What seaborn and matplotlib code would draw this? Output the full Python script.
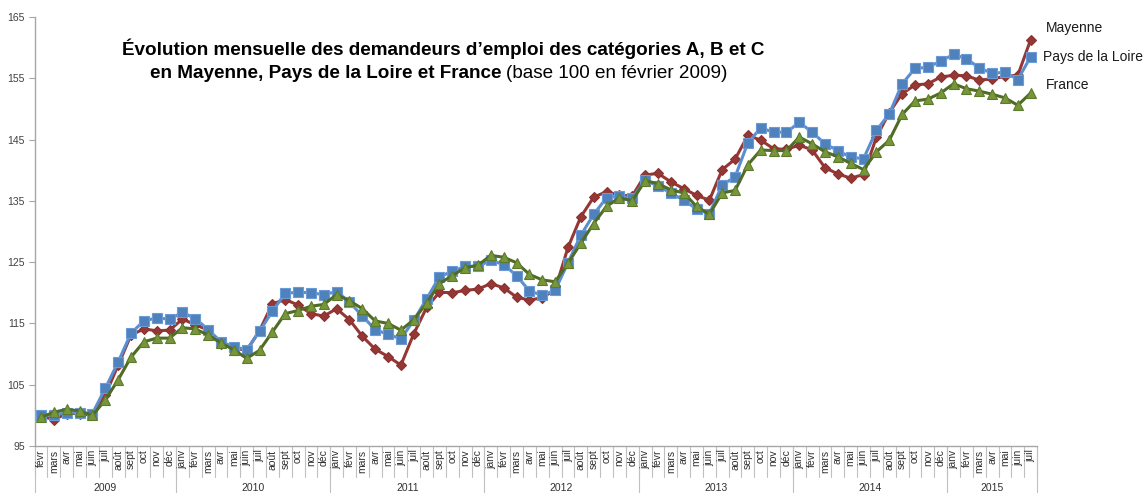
import numpy as np
import pandas as pd
import matplotlib
matplotlib.use("Agg")
import matplotlib.pyplot as plt
import matplotlib.transforms as mtransforms
import seaborn as sns

# ---------------- data ----------------
years = ["2009", "2010", "2011", "2012", "2013", "2014", "2015"]
year_months = [
    ["févr", "mars", "avr", "mai", "juin", "juil", "août", "sept", "oct", "nov", "déc"],
    ["janv", "févr", "mars", "avr", "mai", "juin", "juil", "août", "sept", "oct", "nov", "déc"],
    ["janv", "févr", "mars", "avr", "mai", "juin", "juil", "août", "sept", "oct", "nov", "déc"],
    ["janv", "févr", "mars", "avr", "mai", "juin", "juil", "août", "sept", "oct", "nov", "déc"],
    ["janv", "févr", "mars", "avr", "mai", "juin", "juil", "août", "sept", "oct", "nov", "déc"],
    ["janv", "févr", "mars", "avr", "mai", "juin", "juil", "août", "sept", "oct", "nov", "déc"],
    ["janv", "févr", "mars", "avr", "mai", "juin", "juil"],
]

mayenne = [
    99.9, 99.3, 100.3, 100.3, 100.0, 103.3, 108.2, 113.1, 114.1, 113.8, 113.9,
    115.7, 114.8, 113.9, 111.6, 111.0, 110.6, 113.8, 118.2, 118.9, 118.0, 116.6, 116.2,
    117.4, 115.6, 112.9, 110.8, 109.6, 108.2, 113.3, 117.6, 120.1, 120.0, 120.4, 120.6,
    121.5, 120.8, 119.3, 118.8, 119.2, 120.5, 127.4, 132.4, 135.6, 136.5, 135.9, 135.8,
    139.2, 139.5, 138.1, 137.0, 135.9, 135.1, 140.1, 141.8, 145.7, 144.9, 143.5, 143.4,
    144.1, 143.3, 140.4, 139.4, 138.7, 139.3, 145.4, 149.4, 152.5, 153.9, 154.1, 155.2,
    155.5, 155.4, 154.7, 154.9, 155.3, 155.5, 161.3,
]
pays_de_la_loire = [
    100.0, 100.1, 100.4, 100.4, 100.3, 104.4, 108.7, 113.4, 115.4, 115.9, 115.7,
    116.8, 115.8, 114.0, 112.0, 111.2, 110.7, 113.7, 117.0, 119.9, 120.1, 120.0, 119.7,
    120.2, 118.5, 116.2, 114.0, 113.2, 112.5, 115.5, 119.0, 122.6, 123.5, 124.3, 124.3,
    125.3, 124.6, 122.8, 120.3, 119.6, 120.4, 124.9, 129.4, 132.8, 135.5, 135.8, 135.4,
    138.4, 137.4, 136.3, 135.1, 133.7, 132.9, 137.6, 138.9, 144.5, 146.9, 146.2, 146.2,
    147.8, 146.2, 144.3, 143.2, 142.1, 141.9, 146.5, 149.2, 154.1, 156.6, 156.8, 157.8,
    158.9, 158.2, 156.7, 155.8, 156.0, 154.8, 158.5,
]
france = [
    99.7, 100.5, 101.0, 100.7, 100.0, 102.5, 105.8, 109.5, 112.0, 112.6, 112.6,
    114.3, 114.1, 113.1, 111.8, 110.7, 109.3, 110.6, 113.6, 116.6, 117.1, 117.8, 118.1,
    119.7, 118.7, 117.4, 115.4, 115.0, 113.9, 115.6, 118.3, 121.5, 122.8, 124.1, 124.5,
    126.1, 125.8, 124.9, 123.0, 122.1, 121.8, 124.8, 128.1, 131.3, 134.1, 135.5, 135.0,
    138.3, 137.8, 136.8, 136.3, 134.1, 132.8, 136.3, 136.7, 140.9, 143.3, 143.2, 143.2,
    145.4, 144.3, 143.0, 142.2, 141.1, 140.1, 143.0, 144.9, 149.1, 151.3, 151.6, 152.6,
    154.1, 153.3, 152.9, 152.4, 151.8, 150.6, 152.6,
]
series_names = ["Mayenne", "Pays de la Loire", "France"]
y_ticks = [95, 105, 115, 125, 135, 145, 155, 165]

# ---------------- build table ----------------
month_labels = [m for ms in year_months for m in ms]
n = len(month_labels)
pos = np.arange(n)
df = pd.DataFrame({
    "pos": np.concatenate([pos, pos, pos]),
    "value": mayenne + pays_de_la_loire + france,
    "serie": np.repeat(series_names, n),
})

# ---------------- style ----------------
sns.set_style("white")
plt.rcParams["font.family"] = ["Liberation Sans", "DejaVu Sans"]

fig = plt.figure(figsize=(11.46, 4.93), dpi=100)
ax = fig.add_axes([34.6 / 1146, 1 - 446 / 493, (1037.1 - 34.6) / 1146, (446 - 17) / 493])

styles = {
    "Mayenne": dict(color="#953735", marker="D", markersize=5.4,
                    markerfacecolor="#953735", markeredgecolor="#8A3230"),
    "Pays de la Loire": dict(color="#5B8ED0", marker="s", markersize=7.5,
                             markerfacecolor="#4F81BD", markeredgecolor="#6A9AD8"),
    "France": dict(color="#4F6B26", marker="^", markersize=7.8,
                   markerfacecolor="#77963A", markeredgecolor="#5C7A2C"),
}
for name in series_names:
    sub = df[df["serie"] == name]
    st = styles[name]
    sns.lineplot(data=sub, x="pos", y="value", ax=ax, color=st["color"],
                 linewidth=2.2, marker=st["marker"], markersize=st["markersize"],
                 markerfacecolor=st["markerfacecolor"],
                 markeredgecolor=st["markeredgecolor"], markeredgewidth=0.8,
                 legend=False, zorder=3)

ax.set_xlim(-0.5, n - 0.5)
ax.set_ylim(95, 165)
ax.set_yticks(y_ticks)
ax.set_yticklabels([str(t) for t in y_ticks], fontsize=7.5, color="#404040")
ax.set_xticks([])
ax.set_xlabel("")
ax.set_ylabel("")
for s in ["top", "right"]:
    ax.spines[s].set_visible(False)
for s in ["left", "bottom"]:
    ax.spines[s].set_color("#A6A6A6")
    ax.spines[s].set_linewidth(1.0)
ax.tick_params(axis="y", direction="out", length=4, width=0.8, color="#A6A6A6", pad=3, left=True)

# ---------------- multi-level category axis ----------------
trans = mtransforms.blended_transform_factory(ax.transData, ax.transAxes)
month_h = (477 - 446) / 429
full_h = (493 - 446) / 429
for i, lab in enumerate(month_labels):
    ax.text(i, -0.008, lab, rotation=90, ha="center", va="top", fontsize=7.5,
            color="#303030", transform=trans, clip_on=False)
for i in range(n + 1):
    ax.plot([i - 0.5, i - 0.5], [0, -month_h], transform=trans, color="#C0C0C0",
            linewidth=0.8, clip_on=False)
start = 0
for y, ms in zip(years, year_months):
    end = start + len(ms)
    ax.plot([start - 0.5, start - 0.5], [0, -full_h], transform=trans, color="#C0C0C0",
            linewidth=0.8, clip_on=False)
    ax.text((start + end - 1) / 2, -(488 - 446) / 429, y, ha="center", va="center",
            fontsize=7.5, color="#303030", transform=trans, clip_on=False)
    start = end
ax.plot([n - 0.5, n - 0.5], [0, -full_h], transform=trans, color="#C0C0C0",
        linewidth=0.8, clip_on=False)

# ---------------- title ----------------
fig.text(443 / 1146, 1 - 49 / 493,
         "Évolution mensuelle des demandeurs d\u2019emploi des catégories A, B et C",
         ha="center", va="center", fontsize=13.6, fontweight="bold", color="#000000")
fig.text(501 / 1146, 1 - 73 / 493, "en Mayenne, Pays de la Loire et France",
         ha="right", va="center", fontsize=13.6, fontweight="bold", color="#000000")
fig.text(506 / 1146, 1 - 73 / 493, "(base 100 en février 2009)",
         ha="left", va="center", fontsize=13.6, color="#000000")

# ---------------- series labels ----------------
fig.text(1046 / 1146, 1 - 28 / 493, "Mayenne", ha="left", va="center", fontsize=10, color="#1A1A1A")
fig.text(1043 / 1146, 1 - 57 / 493, "Pays de la Loire", ha="left", va="center", fontsize=10, color="#1A1A1A")
fig.text(1046 / 1146, 1 - 85 / 493, "France", ha="left", va="center", fontsize=10, color="#1A1A1A")

fig.savefig("out.png", dpi=100, facecolor="white")
